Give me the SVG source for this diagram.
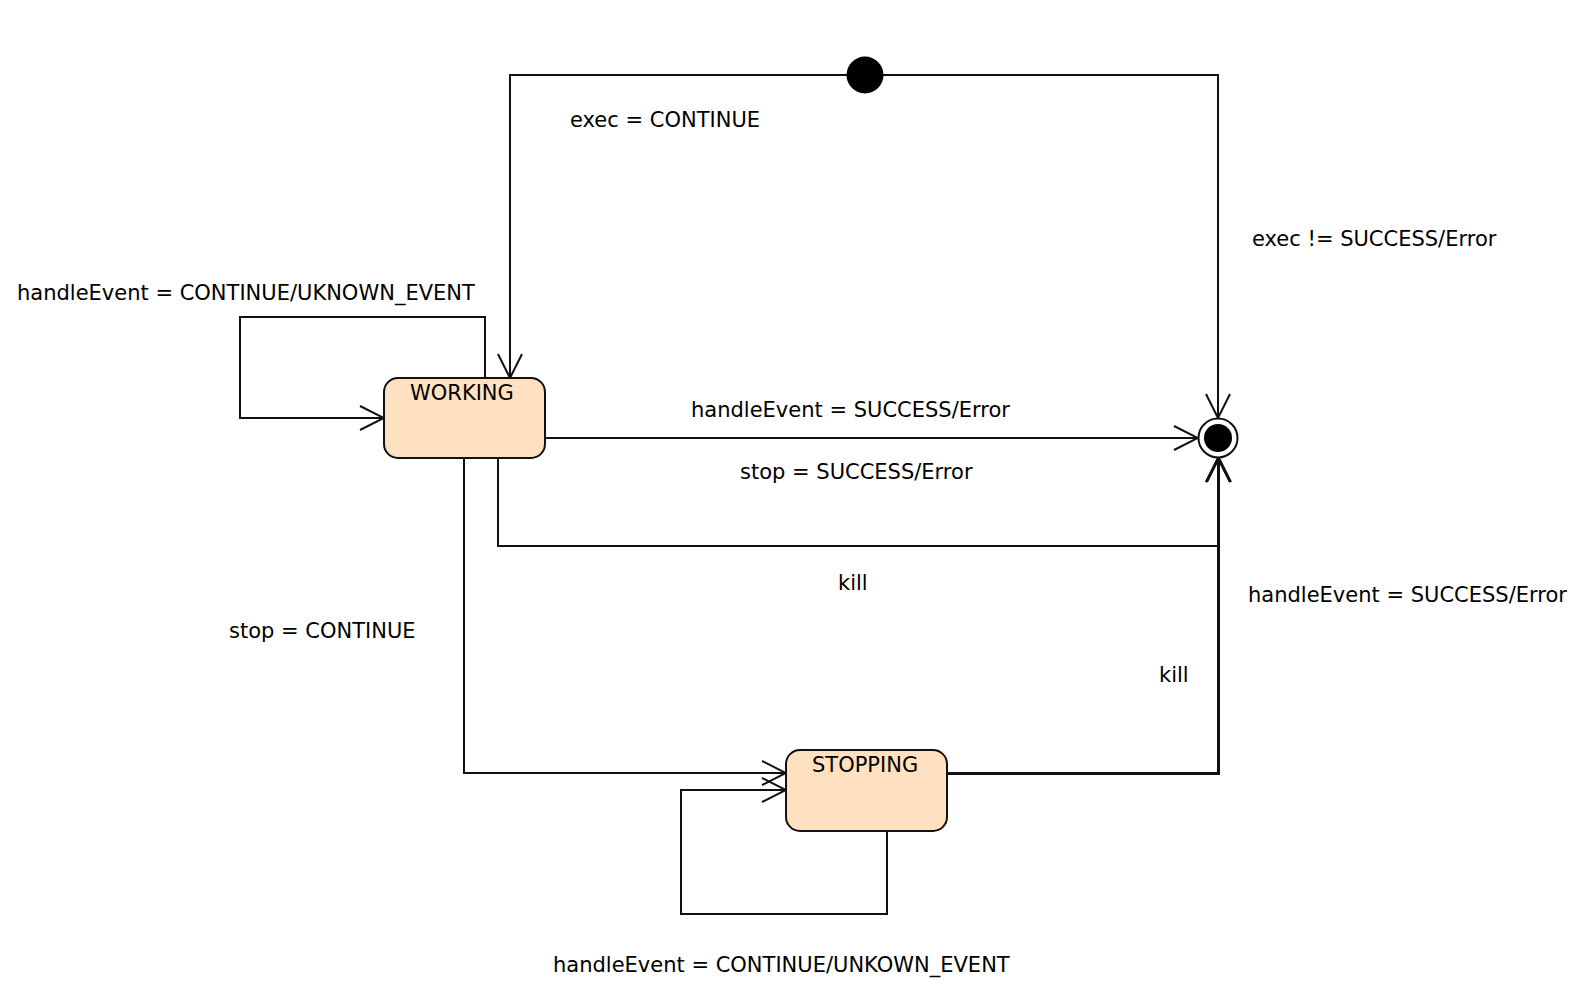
<svg xmlns="http://www.w3.org/2000/svg" width="1584" height="998" viewBox="0 0 1584 998">
  <style>
    .edge { fill: none; stroke: #111; stroke-width: 2; }
    .state { fill: #FFE0C1; stroke: #111; stroke-width: 2; }
    text { font-family: "DejaVu Sans", "Noto Sans", sans-serif; font-size: 21px; fill: #000; }
  </style>
  <defs>
    <marker id="open" viewBox="0 0 26 26" markerWidth="26" markerHeight="26" refX="25" refY="13" orient="auto" markerUnits="userSpaceOnUse">
      <path d="M1,1 L25,13 L1,25" fill="none" stroke="#111" stroke-width="2"/>
    </marker>
  </defs>
  <rect width="1584" height="998" fill="#fff"/>

  <!-- transitions -->
  <g id="connectors">
    <path class="edge" d="M847,75 H510 V378" marker-end="url(#open)"/>
    <path class="edge" d="M883,75 H1218 V418" marker-end="url(#open)"/>
    <path class="edge" d="M485,378 V317 H240 V418 H384" marker-end="url(#open)"/>
    <path class="edge" d="M545,438 H1198" marker-end="url(#open)"/>
    <path class="edge" d="M498,458 V546 H1218 V458" marker-end="url(#open)"/>
    <path class="edge" d="M464,458 V773 H786" marker-end="url(#open)"/>
    <path class="edge" d="M887,831 V914 H681 V790 H786" marker-end="url(#open)"/>
    <path class="edge" d="M947,773 H1218 V458" marker-end="url(#open)"/>
    <path class="edge" d="M947,774 H1219 V458" marker-end="url(#open)"/>

    <text x="570" y="127">exec = CONTINUE</text>
    <text x="1252" y="246">exec != SUCCESS/Error</text>
    <text x="17" y="300">handleEvent = CONTINUE/UKNOWN_EVENT</text>
    <text x="691" y="417">handleEvent = SUCCESS/Error</text>
    <text x="740" y="479">stop = SUCCESS/Error</text>
    <text x="838" y="590">kill</text>
    <text x="1248" y="602">handleEvent = SUCCESS/Error</text>
    <text x="229" y="638">stop = CONTINUE</text>
    <text x="1159" y="682">kill</text>
    <text x="553" y="972">handleEvent = CONTINUE/UNKOWN_EVENT</text>
  </g>

  <g id="initial">
    <circle cx="865" cy="75" r="18.5" fill="#000"/>
  </g>

  <g id="final">
    <circle cx="1218" cy="438" r="19.5" fill="#fff" stroke="#111" stroke-width="2"/>
    <circle cx="1218" cy="438" r="14" fill="#000"/>
  </g>

  <g id="working">
    <rect class="state" x="384" y="378" width="161" height="80" rx="14"/>
    <text x="410" y="400">WORKING</text>
  </g>

  <g id="stopping">
    <rect class="state" x="786" y="750" width="161" height="81" rx="14"/>
    <text x="812" y="772">STOPPING</text>
  </g>
</svg>
